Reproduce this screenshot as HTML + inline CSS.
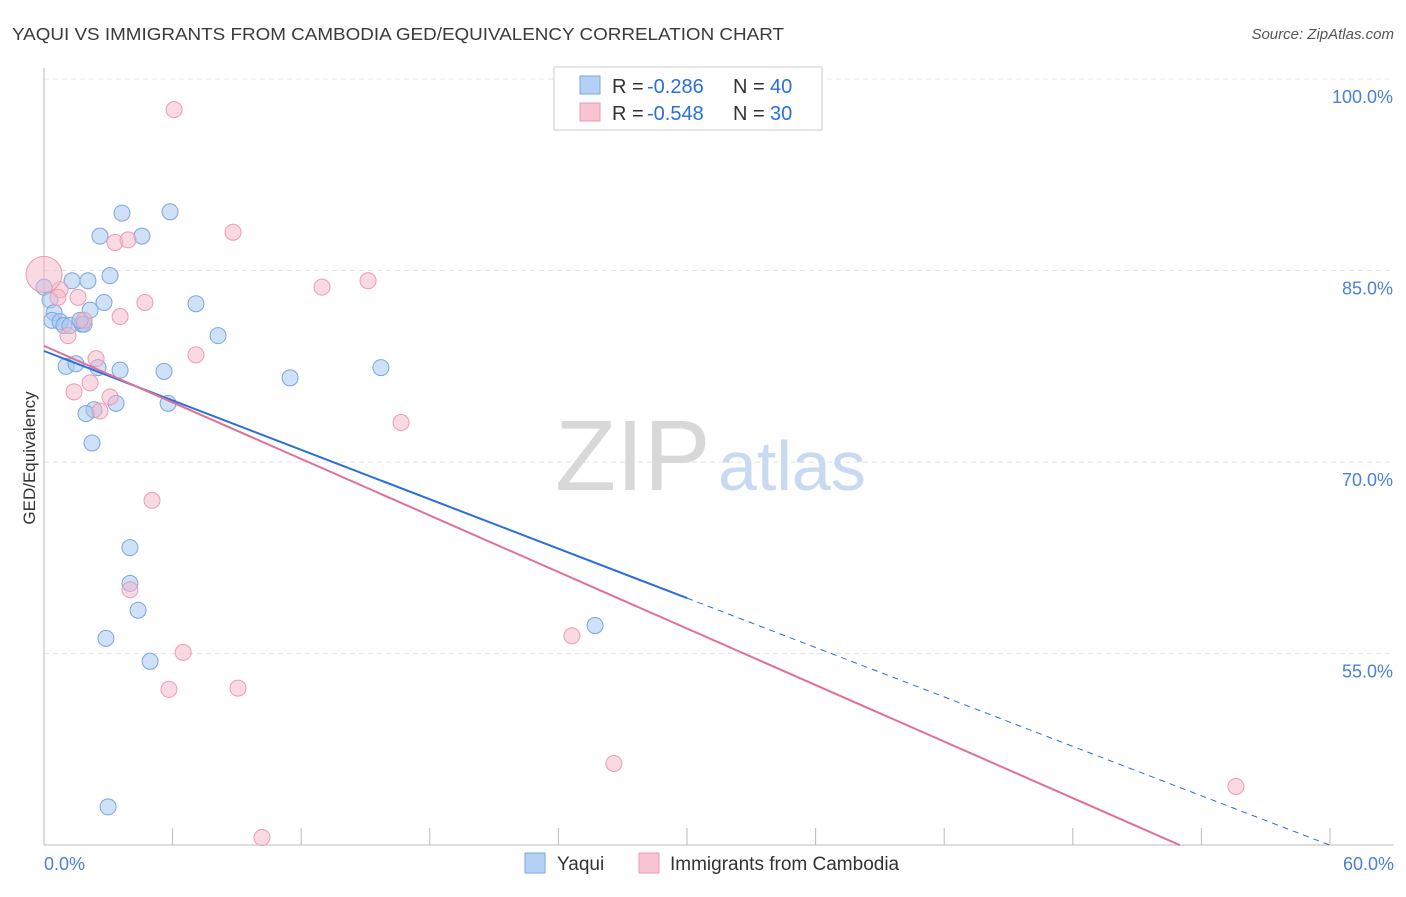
<!DOCTYPE html>
<html><head><meta charset="utf-8"><style>
body{margin:0;background:#fff;font-family:"Liberation Sans",sans-serif;}
svg text{font-family:"Liberation Sans",sans-serif;}
</style></head><body>
<svg id="chart" width="1406" height="892" xmlns="http://www.w3.org/2000/svg">
<text x="12" y="40" font-size="17.5" fill="#3a3a3a" textLength="772" lengthAdjust="spacingAndGlyphs">YAQUI VS IMMIGRANTS FROM CAMBODIA GED/EQUIVALENCY CORRELATION CHART</text>
<text x="1394" y="39" font-size="15" fill="#555" text-anchor="end" font-style="italic">Source: ZipAtlas.com</text>
<g id="grid"></g>
<text x="555" y="490" font-size="100" fill="#d8d8d8" font-family="Liberation Serif">ZIP</text>
<text x="718" y="490" font-size="70" fill="#c8daf2">atlas</text>
<g id="marks"></g>
<text x="35" y="458" font-size="17" fill="#333" text-anchor="middle" transform="rotate(-90 35 458)">GED/Equivalency</text>
<g>
<rect x="554" y="67" width="268" height="63" fill="#fff" stroke="#ccc"/>
<rect x="580" y="76" width="20" height="18" fill="#b4d0f4" stroke="#7aa6e0"/>
<rect x="580" y="103" width="20" height="18" fill="#f8c4d2" stroke="#ec9ab2"/>
<text x="612" y="93" font-size="20" fill="#333">R =</text><text x="647" y="93" font-size="20" fill="#2a6fdb">-0.286</text>
<text x="733" y="93" font-size="20" fill="#333">N =</text><text x="770" y="93" font-size="20" fill="#2a6fdb">40</text>
<text x="612" y="120" font-size="20" fill="#333">R =</text><text x="647" y="120" font-size="20" fill="#2a6fdb">-0.548</text>
<text x="733" y="120" font-size="20" fill="#333">N =</text><text x="770" y="120" font-size="20" fill="#2a6fdb">30</text>
</g>
<g>
<rect x="525" y="853" width="20" height="20" fill="#b4d0f4" stroke="#7aa6e0"/>
<text x="557" y="870" font-size="19" fill="#333">Yaqui</text>
<rect x="639" y="853" width="20" height="20" fill="#f8c4d2" stroke="#ec9ab2"/>
<text x="670" y="870" font-size="19" fill="#333">Immigrants from Cambodia</text>
</g>
</svg>
<script>
const blueX=[0,0.28,0.47,0.37,0.75,0.93,1.21,1.77,1.87,1.03,1.49,2.52,3.55,1.31,2.05,3.08,2.80,2.15,3.64,5.88,2.61,4.57,7.09,8.12,5.60,11.48,15.72,2.33,1.96,3.36,5.79,2.24,4.01,4.01,4.39,2.89,4.95,2.99,25.71,1.68];
const blueY=[83.7,82.7,81.7,81.1,81.0,80.7,80.7,80.8,80.8,77.5,77.7,77.4,77.2,84.2,84.2,84.6,82.5,81.9,89.5,89.6,87.7,87.7,82.4,79.9,77.1,76.6,77.4,74.1,73.8,74.6,74.6,71.5,63.3,60.5,58.4,56.2,54.4,43.0,57.2,81.1];
const pinkX=[6.07,8.82,3.31,3.92,12.97,15.12,4.71,3.55,1.59,0.75,1.87,1.12,2.43,7.09,2.15,1.40,3.08,2.61,16.66,5.04,4.01,6.49,5.83,9.05,24.63,26.59,55.61,10.17,0,0.65];
const pinkY=[97.6,88.0,87.2,87.4,83.7,84.2,82.5,81.4,82.9,83.5,81.1,79.9,78.1,78.4,76.2,75.5,75.1,74.0,73.1,67.0,60.0,55.1,52.2,52.3,56.4,46.4,44.6,40.6,84.7,82.9];
const pinkR=[8,8,8,8,8,8,8,8,8,8,8,8,8,8,8,8,8,8,8,8,8,8,8,8,8,8,8,8,18,8];
const blueLine=[78.7,40.0];
const pinkLine=[79.1,40.0,53.0];
const yTicks=[100,85,70,55];
const xTicks=[0,6,12,18,24,30,36,42,48,54,60];
const NS="http://www.w3.org/2000/svg";
const sx=v=>44+v/60*1286;
const sy=v=>79+(100-v)*12.77;
function mk(t,a,p){const e=document.createElementNS(NS,t);for(const k in a)e.setAttribute(k,a[k]);p.appendChild(e);return e;}
const g=document.getElementById('grid'),m=document.getElementById('marks');
yTicks.forEach(v=>{
 const l=mk('line',{x1:44,x2:1394,y1:sy(v),y2:sy(v),stroke:'#e4e4e4','stroke-dasharray':'5,4'},g);
 
 
 const t=mk('text',{x:1393,y:sy(v)+24,'font-size':18,fill:'#4a80d8','text-anchor':'end'},g);t.textContent=v.toFixed(1)+'%';
 
 
});
const ax=mk('line',{x1:44,x2:1394,y1:845,y2:845,stroke:'#bbb'},g);


const ay=mk('line',{x1:44,x2:44,y1:68,y2:845,stroke:'#bbb'},g);


xTicks.forEach(v=>{const l=mk('line',{x1:sx(v),x2:sx(v),y1:828,y2:845,stroke:'#bbb'},g);
 
 });
[[0,'0.0%','start',44],[60,'60.0%','end',1394]].forEach(a=>{const t=mk('text',{x:a[3],y:870,'font-size':18,fill:'#4a80d8','text-anchor':a[2]},g);t.textContent=a[1];
 
 });
blueX.forEach((x,i)=>{const c=mk('circle',{cx:sx(x),cy:sy(blueY[i]),r:8,fill:'rgba(168,200,240,0.55)',stroke:'#7aa6e0','stroke-width':1},m);
 
 });
pinkX.forEach((x,i)=>{const c=mk('circle',{cx:sx(x),cy:sy(pinkY[i]),r:pinkR[i],fill:'rgba(244,182,200,0.5)',stroke:'#ec9ab2','stroke-width':1},m);
 
 });
const bAt=x=>blueLine[0]+(blueLine[1]-blueLine[0])*x/60;
const b1=mk('line',{x1:sx(0),y1:sy(bAt(0)),x2:sx(30),y2:sy(bAt(30)),stroke:'#2a6fdb','stroke-width':2},m);


const b2=mk('line',{x1:sx(30),y1:sy(bAt(30)),x2:sx(60),y2:sy(bAt(60)),stroke:'#2a6fdb','stroke-width':1,'stroke-dasharray':'6,5'},m);


const p1=mk('line',{x1:sx(0),y1:sy(pinkLine[0]),x2:sx(pinkLine[2]),y2:sy(pinkLine[1]),stroke:'#e0709a','stroke-width':2},m);


</script>
</body></html>
